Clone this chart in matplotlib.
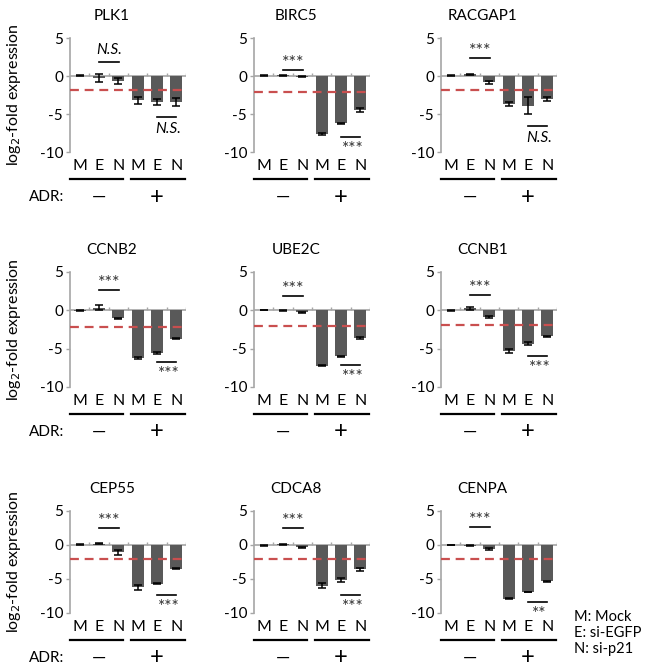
import matplotlib.pyplot as plt
from matplotlib.transforms import offset_copy
import numpy as np

plt.rcParams["font.family"] = ["Lato", "DejaVu Sans"]

genes = ["PLK1", "BIRC5", "RACGAP1",
         "CCNB2", "UBE2C", "CCNB1",
         "CEP55", "CDCA8", "CENPA"]
conditions = ["M", "E", "N", "M", "E", "N"]
adr_signs = ["\u2014", "+"]

# log2 fold expression, order M E N (ADR-) then M E N (ADR+)
means = [
    [0.05, -0.3, -0.7, -3.2, -3.4, -3.45],     # PLK1
    [0.05, 0.1, -0.1, -7.65, -6.2, -4.45],     # BIRC5
    [0.05, 0.2, -0.8, -3.7, -3.9, -3.05],      # RACGAP1
    [-0.05, 0.35, -1.05, -6.25, -5.6, -3.7],   # CCNB2
    [0.05, 0.0, -0.25, -7.2, -6.0, -3.6],      # UBE2C
    [0.0, 0.25, -0.9, -5.3, -4.35, -3.4],      # CCNB1
    [0.05, 0.2, -1.1, -6.2, -5.7, -3.5],       # CEP55
    [-0.05, 0.1, -0.35, -6.0, -5.15, -3.55],   # CDCA8
    [0.0, -0.1, -0.55, -7.9, -6.9, -5.35],     # CENPA
]
errors = [
    [0.1, 0.5, 0.4, 0.45, 0.35, 0.55],
    [0.03, 0.05, 0.05, 0.1, 0.05, 0.3],
    [0.1, 0.1, 0.2, 0.3, 1.1, 0.25],
    [0.05, 0.3, 0.1, 0.15, 0.1, 0.1],
    [0.03, 0.03, 0.08, 0.1, 0.1, 0.1],
    [0.05, 0.15, 0.15, 0.25, 0.2, 0.1],
    [0.05, 0.1, 0.3, 0.35, 0.05, 0.1],
    [0.03, 0.05, 0.1, 0.35, 0.25, 0.2],
    [0.0, 0.05, 0.15, 0.1, 0.05, 0.1],
]
cutoffs = [-1.8, -2.1, -1.8, -2.2, -2.0, -1.9, -2.1, -2.05, -2.0]

sig_upper = ["N.S.", "***", "***", "***", "***", "***", "***", "***", "***"]
sig_upper_y = [1.9, 0.85, 2.35, 2.65, 1.85, 1.95, 2.45, 2.5, 2.6]
sig_lower = ["N.S.", "***", "N.S.", "***", "***", "***", "***", "***", "**"]
sig_lower_y = [-5.35, -8.0, -6.6, -6.8, -7.15, -6.0, -7.3, -7.4, -8.4]

legend_lines = ["M: Mock", "E: si-EGFP", "N: si-p21"]

W, H = 648, 672
fig = plt.figure(figsize=(W / 100, H / 100), dpi=100)

col_left = [70, 254, 441]
row_top = [38, 272, 511]
row_bottom = [152, 387, 613]
ax_w = 116

grey = "#a6a6a6"
bar_color = "#595959"
red = "#c94f4f"
x = np.arange(len(conditions))


def star_note(ax, label, xy, above):
    if label == "N.S.":
        ax.annotate(label, xy, xytext=(0, 5 if above else -5),
                    textcoords="offset pixels", ha="center",
                    va="bottom" if above else "top",
                    fontsize=11, style="italic")
    elif above:
        ax.annotate(label, xy, xytext=(0, 7), textcoords="offset pixels",
                    ha="center", va="center", fontsize=13, color="#333333")
    else:
        ax.annotate(label, xy, xytext=(0, -4), textcoords="offset pixels",
                    ha="center", va="top", fontsize=12.5, color="#333333")


for i, gene in enumerate(genes):
    r, c = divmod(i, 3)
    left = col_left[c] / W
    bottom = 1 - row_bottom[r] / H
    height = (row_bottom[r] - row_top[r]) / H
    ax = fig.add_axes((left, bottom, ax_w / W, height))

    ax.bar(x, means[i], width=0.62, color=bar_color, zorder=2)
    ax.errorbar(x, means[i], yerr=errors[i], fmt="none", ecolor="black",
                elinewidth=1.1, capsize=3, capthick=1.1, zorder=3)
    ax.axhline(0, color=grey, lw=1.2, zorder=1)
    ax.vlines(x + 0.5, 0, 0.45, color=grey, lw=1, zorder=1)
    ax.axhline(cutoffs[i], color=red, lw=1.6, ls=(0, (4, 2.6)), zorder=4)

    ax.set_xlim(-0.5, 5.5)
    ax.set_ylim(-10, 5)
    ax.set_yticks([5, 0, -5, -10])
    ax.set_yticklabels(["5", "0", "-5", "-10"])
    ax.tick_params(axis="y", length=3, width=1, color=grey, labelsize=11, pad=2)
    ax.set_xticks(x)
    ax.set_xticklabels(conditions)
    ax.tick_params(axis="x", length=0, labelsize=11.5, pad=5)
    for s in ["top", "right", "bottom"]:
        ax.spines[s].set_visible(False)
    ax.spines["left"].set_color(grey)
    ax.spines["left"].set_linewidth(1.2)
    ax.patch.set_alpha(0)

    ax.set_title(gene, x=0.36, fontsize=11, pad=13)
    if c == 0:
        ax.set_ylabel("log$_2$-fold expression", fontsize=11.5, labelpad=12)

    # significance brackets
    ax.plot([1.0, 2.05], [sig_upper_y[i]] * 2, color="black", lw=1.2, zorder=5)
    ax.plot([4.0, 5.0], [sig_lower_y[i]] * 2, color="black", lw=1.2, zorder=5)
    star_note(ax, sig_upper[i], (1.55, sig_upper_y[i]), True)
    star_note(ax, sig_lower[i], (4.6, sig_lower_y[i]), False)

    # group underline and ADR signs
    tr = offset_copy(ax.get_xaxis_transform(), fig=fig, y=-27, units="dots")
    ax.plot([-0.5, 2.25], [0, 0], transform=tr, color="black", lw=1.6,
            clip_on=False)
    ax.plot([2.65, 5.45], [0, 0], transform=tr, color="black", lw=1.6,
            clip_on=False)
    tr2 = offset_copy(ax.get_xaxis_transform(), fig=fig, y=-45, units="dots")
    ax.text(1.0, 0, adr_signs[0], transform=tr2, ha="center", va="center",
            fontsize=13)
    ax.text(4.0, 0, adr_signs[1], transform=tr2, ha="center", va="center",
            fontsize=17)
    if c == 0:
        ax.text(-0.05, 0, "ADR:", transform=offset_copy(
            ax.transAxes, fig=fig, y=-45, units="dots"),
            ha="right", va="center", fontsize=11)

for k, line in enumerate(legend_lines):
    fig.text(574 / W, 1 - (617 + 16 * k) / H, line, ha="left", va="center",
             fontsize=10.5)

fig.savefig("out.png", dpi=100)
